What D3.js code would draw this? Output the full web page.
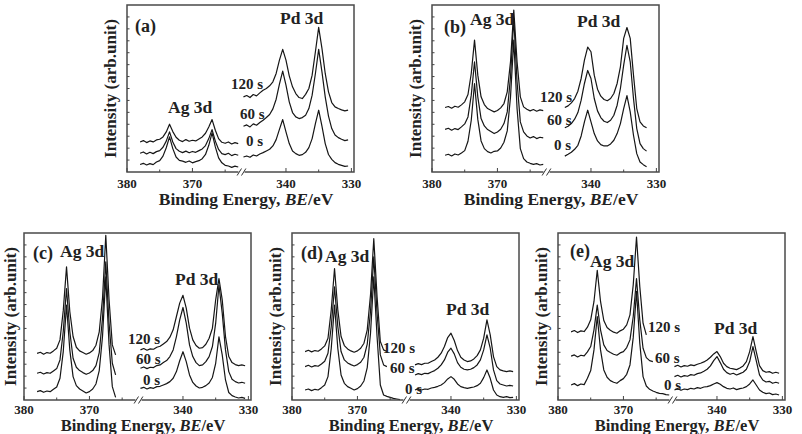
<!DOCTYPE html>
<html>
<head>
<meta charset="utf-8">
<script src="https://cdn.jsdelivr.net/npm/d3@7/dist/d3.min.js"></script>
<style>
  body { margin: 0; background: #fff; }
  text { font-family: "Liberation Serif", "Times New Roman", serif; font-weight: bold; fill: #222; }
</style>
</head>
<body>
<div id="container"></div>
<script>
/* DATA */
const agEnergy = [378,377.5,377,376.5,376,375.5,375,374.5,374,373.5,373,372.5,372,371.5,371,370.5,370,369.5,369,368.5,368,367.5,367,366.5,366,365.5,365,364.5,364,363.5,363];
const pdEnergy = [346.5,346,345.5,345,344.5,344,343.5,343,342.5,342,341.5,341,340.5,340,339.5,339,338.5,338,337.5,337,336.5,336,335.5,335,334.5,334,333.5,333,332.5,332,331.5,331,330.5];
const times = ["0 s", "60 s", "120 s"];
const xTicks = [380, 370, 340, 330];
const xMinorTicks = [375, 365, 335];

// intensities in % of frame height, order: 0 s, 60 s, 120 s
const agA = [
  [4.5,5.2,4.2,5.0,4.4,6.0,6.8,9.5,14.5,21.0,14.0,9.0,7.0,6.5,5.8,6.6,5.5,6.2,6.8,8.0,10.5,16.0,23.4,15.0,8.5,5.5,4.0,3.6,2.8,3.5,3.0],
  [11.2,12.0,10.8,11.8,11.0,12.2,12.8,14.8,18.5,24.0,18.0,14.0,12.4,11.6,12.5,11.5,12.3,11.8,12.8,13.8,15.8,20.0,25.4,18.5,13.5,11.0,10.4,11.2,9.8,10.6,10.0],
  [18.0,18.8,17.6,18.6,18.0,19.2,19.6,21.0,24.0,28.6,24.2,20.8,19.0,18.2,19.4,18.4,19.0,18.6,19.8,21.0,23.2,27.0,31.4,25.0,20.0,17.8,17.2,18.0,16.8,17.6,17.0]
];
const pdA = [
  [9.0,9.6,8.8,10.2,9.6,10.8,11.6,12.6,13.6,15.6,19.4,25.5,31.4,24.0,17.0,12.6,11.0,10.0,10.4,11.8,14.6,20.0,29.0,37.0,27.5,17.0,10.5,7.6,5.6,4.6,4.0,3.4,3.6],
  [27.4,28.2,27.0,28.8,28.0,29.6,31.0,32.6,34.4,37.8,43.6,52.6,60.4,52.0,42.0,35.6,33.0,32.0,32.6,34.0,38.0,46.0,59.0,73.4,60.0,45.0,33.5,26.0,22.2,20.6,19.6,18.8,19.2],
  [45.0,45.8,44.6,46.4,45.6,47.4,49.0,50.0,51.6,54.0,59.0,67.0,73.4,67.0,57.6,51.0,47.0,44.6,44.0,46.5,50.0,58.0,72.0,86.6,74.0,59.0,48.0,41.6,39.0,38.0,37.2,36.6,37.0]
];
const agB = [
  [10.0,10.6,9.6,10.8,10.2,11.4,12.8,18.4,31.0,53.0,31.5,18.6,14.0,12.2,11.4,12.4,12.6,14.4,17.8,24.6,45.0,79.0,38.0,14.0,8.0,6.0,5.2,4.6,5.0,4.2,4.6],
  [25.5,26.2,25.0,26.0,25.4,27.0,28.8,33.0,46.0,66.0,45.0,32.0,27.6,25.4,24.2,23.0,24.0,25.6,29.0,36.0,57.0,92.0,54.0,30.0,24.0,21.6,20.4,21.2,20.0,20.8,20.4],
  [38.6,39.2,38.2,39.4,38.8,40.2,42.0,46.4,59.0,79.0,58.0,45.0,40.4,38.0,37.0,36.0,36.8,38.4,41.0,48.0,66.0,97.0,66.0,45.0,39.0,37.6,36.6,37.4,36.4,37.2,36.8]
];
const pdB = [
  [null,null,null,null,null,9.5,10.6,11.8,13.6,16.0,21.6,30.0,37.0,30.0,23.0,18.6,16.4,15.6,15.6,16.8,19.0,23.0,29.0,38.0,45.7,36.0,22.0,11.0,6.0,4.4,3.2],
  [null,null,null,null,null,26.5,27.4,29.0,31.6,35.6,43.0,53.0,60.8,56.0,44.0,36.6,32.6,30.4,29.6,31.0,34.0,40.0,50.0,64.0,75.9,66.0,44.0,26.0,17.0,14.0,12.5],
  [null,null,null,null,null,38.6,39.6,41.4,44.0,48.4,56.0,67.0,74.8,72.0,58.0,49.6,45.4,43.4,42.7,44.0,47.0,53.0,63.0,80.0,86.5,80.0,58.0,38.0,30.0,27.6,26.5]
];
const agC = [
  [5.0,5.6,4.6,5.4,5.0,6.4,7.8,13.0,29.0,56.8,30.0,14.0,8.6,6.6,5.4,4.2,5.0,6.6,9.6,17.6,38.0,73.7,33.0,8.0,1.6],
  [16.0,16.6,15.6,16.4,16.0,17.4,18.8,24.0,41.0,66.7,41.0,25.0,19.6,17.6,16.4,15.4,16.2,17.6,20.6,28.4,49.0,82.7,46.0,22.0,15.0],
  [27.9,28.6,27.4,28.4,28.0,29.4,31.0,36.0,53.5,79.7,53.0,38.0,31.6,29.4,28.4,27.4,28.2,29.6,32.8,40.8,61.0,98.6,60.0,33.0,27.0]
];
const pdC = [
  [7.0,7.6,6.6,7.4,7.0,8.0,8.2,9.0,9.8,11.0,13.0,17.0,23.5,28.9,23.0,15.0,10.5,8.4,7.2,7.6,8.6,10.2,13.5,22.0,37.8,27.0,12.0,4.5,2.6,1.8,1.2,1.6,1.0],
  [19.0,19.8,18.8,19.6,19.4,20.6,21.0,22.4,23.6,26.0,30.0,38.0,48.0,55.4,46.0,33.0,26.0,22.4,20.6,21.0,23.0,26.0,32.0,46.0,68.7,52.0,30.0,17.0,12.4,11.0,10.2,10.6,10.0],
  [30.0,30.8,29.8,30.6,30.4,31.6,32.2,33.6,35.0,37.6,42.0,50.0,58.0,62.7,55.0,43.0,36.0,32.6,31.0,31.4,33.4,37.0,43.0,60.0,72.7,60.0,38.0,26.0,22.4,21.2,20.6,21.0,20.5]
];
const agD = [
  [6.0,6.6,5.6,6.4,6.0,7.4,9.0,14.0,31.0,56.8,31.0,15.0,10.0,8.0,7.0,6.0,6.8,8.4,11.4,19.4,40.0,73.7,38.0,9.0,3.0,2.2,1.6,1.0,0.6,0.2],
  [20.0,20.8,19.8,20.6,20.2,21.6,23.2,28.0,44.0,67.7,44.0,29.0,24.0,22.2,21.2,20.4,21.2,22.6,25.6,33.4,53.0,85.7,52.0,27.0,21.0,20.0],
  [29.0,29.8,28.8,29.6,29.2,30.6,32.4,37.0,54.0,78.7,54.0,38.0,32.6,30.6,29.4,28.6,29.4,31.0,34.0,42.0,63.0,96.6,62.0,35.0,30.0,29.0]
];
const pdD = [
  [null,null,6.0,6.8,6.0,6.6,6.4,7.2,7.6,8.2,9.0,10.4,12.6,14.0,12.4,9.6,8.0,7.4,7.0,7.4,7.8,8.6,10.0,13.4,18.0,13.0,6.0,3.0,2.0,1.6,2.0,1.4,1.6],
  [null,null,15.0,15.8,15.2,16.0,15.8,16.8,17.6,19.0,21.0,24.0,28.6,31.0,27.6,22.4,19.6,18.4,18.0,18.4,19.4,21.0,24.0,30.0,39.0,31.0,18.0,11.6,9.6,9.0,8.4,8.8,8.4],
  [null,null,21.0,21.8,21.2,22.0,22.0,23.0,24.0,25.6,28.0,32.0,37.4,40.0,35.6,29.6,25.6,24.0,23.0,23.4,24.6,26.6,30.0,37.0,48.0,39.0,26.0,20.0,18.0,17.4,17.0,17.4,17.0]
];
const agE = [
  [9.0,9.8,8.6,9.6,9.2,13.0,17.6,30.0,50.0,30.0,18.0,13.6,11.6,10.6,10.0,11.6,12.8,15.4,21.0,37.5,65.0,34.0,14.0,8.4,6.4,5.4,4.6,4.0,3.8,3.2,3.0],
  [26.3,27.0,25.8,26.8,26.4,28.8,32.0,42.0,56.8,42.0,33.0,29.6,28.4,27.4,26.8,28.2,29.0,31.4,36.0,50.0,72.7,48.0,31.0,25.4,23.6,23.0],
  [40.8,41.6,40.4,41.4,41.0,43.6,48.0,59.0,77.7,59.0,47.6,43.4,41.8,40.6,40.0,41.4,42.4,45.0,51.0,69.0,97.6,68.0,46.0,39.0]
];
const pdE = [
  [6.0,6.8,5.8,6.6,6.2,7.0,6.6,7.4,7.0,7.8,8.0,8.6,9.6,10.4,9.4,8.0,7.0,6.6,7.2,6.2,6.8,7.2,8.0,9.6,12.0,9.0,6.0,4.6,3.8,4.2,3.2,3.6,3.0],
  [14.0,14.8,13.8,14.6,14.2,15.2,14.8,15.8,16.2,17.2,18.4,20.4,23.6,26.0,22.4,18.4,16.4,15.4,16.0,15.0,15.8,16.6,18.4,23.0,32.0,23.6,15.0,12.0,10.8,11.2,10.0,10.6,10.0],
  [20.0,20.8,19.8,20.6,20.2,21.0,20.6,21.4,22.0,22.8,24.0,25.6,27.6,29.0,26.0,22.0,20.0,19.0,18.6,18.2,19.2,20.4,23.0,29.0,38.0,29.0,20.6,17.6,16.6,17.0,16.0,16.6,16.0]
];

/* LAYOUT */
const W = 802, H = 434, pw = 227, ph = 167;
// top row and bottom row use slightly different title spacing (bottom row sits on the image edge)
const rowTop = { tickY: 15.5, xlabY: 33, xlabSize: 17.5 };
const rowBottom = { tickY: 13.5, xlabY: 30.8, xlabSize: 16.5 };
const panels = [
  { tag: "(a)", x: 127, y: 5,   row: rowTop,    ylab: -11, ag: agA, pd: pdA, pos: { tag: [8, 27],  ag: [41, 108], pd: [153, 19],  t: [[119, 141], [113, 114], [104, 84]] } },
  { tag: "(b)", x: 432, y: 5,   row: rowTop,    ylab: -11, ag: agB, pd: pdB, pos: { tag: [12, 28], ag: [38, 20],  pd: [145, 22],  t: [[122, 145], [115, 120], [108, 97]] } },
  { tag: "(c)", x: 24,  y: 233, row: rowBottom, ylab: -8,  ag: agC, pd: pdC, pos: { tag: [9, 26],  ag: [36, 24],  pd: [151, 52],  t: [[119, 152], [112, 131], [104, 111]] } },
  { tag: "(d)", x: 292, y: 233, row: rowBottom, ylab: -11, ag: agD, pd: pdD, pos: { tag: [9, 26],  ag: [33, 29],  pd: [154, 82],  t: [[113, 161], [98, 140], [91, 120]] } },
  { tag: "(e)", x: 558, y: 233, row: rowBottom, ylab: -11, ag: agE, pd: pdE, pos: { tag: [12, 24], ag: [32, 34],  pd: [156, 101], t: [[106, 157], [97, 130], [90, 99]] } }
];

/* SCALES (broken axis) */
const brk = 114.5;
const xLeft = d3.scaleLinear().domain([380, 362.5]).range([0, brk]);
const xRight = d3.scaleLinear().domain([346.8, 329.6]).range([brk, pw]);
const xE = e => e > 355 ? xLeft(e) : xRight(e);
const yScale = d3.scaleLinear().domain([0, 100]).range([ph, 0]);

const svg = d3.select("#container").append("svg")
  .attr("width", W).attr("height", H)
  .style("background", "#fff");

const line = d3.line()
  .defined(d => d[1] != null)
  .x(d => xE(d[0]))
  .y(d => yScale(d[1]));

panels.forEach(p => {
  const g = svg.append("g").attr("transform", `translate(${p.x},${p.y})`);

  // spectra
  [[agEnergy, p.ag], [pdEnergy, p.pd]].forEach(([en, set]) => {
    set.forEach(vals => {
      const pts = vals.map((v, i) => [en[i], v]);
      g.append("path")
        .attr("d", line(pts))
        .attr("fill", "none")
        .attr("stroke", "#161616")
        .attr("stroke-width", 1.2)
        .attr("stroke-linejoin", "round");
    });
  });

  // frame
  g.append("rect")
    .attr("width", pw).attr("height", ph)
    .attr("fill", "none").attr("stroke", "#4a4a4a").attr("stroke-width", 1.5);

  // bottom ticks (inward)
  const tickG = g.append("g").attr("transform", `translate(0,${ph})`);
  tickG.selectAll(".major").data(xTicks).join("line")
    .attr("x1", d => xE(d)).attr("x2", d => xE(d))
    .attr("y1", 0).attr("y2", -4)
    .attr("stroke", "#444").attr("stroke-width", 1);
  tickG.selectAll(".minor").data(xMinorTicks).join("line")
    .attr("x1", d => xE(d)).attr("x2", d => xE(d))
    .attr("y1", 0).attr("y2", -2.5)
    .attr("stroke", "#444").attr("stroke-width", 1);
  tickG.selectAll("text").data(xTicks).join("text")
    .attr("x", d => xE(d)).attr("y", p.row.tickY)
    .attr("text-anchor", "middle")
    .attr("font-size", "13px")
    .text(d => d);

  // left ticks (inward, unlabeled)
  g.selectAll(".ytick").data(d3.range(1, 14).map(k => k * 100 / 14)).join("line")
    .attr("x1", 0).attr("x2", 2.5)
    .attr("y1", d => yScale(d)).attr("y2", d => yScale(d))
    .attr("stroke", "#444").attr("stroke-width", 1);

  // axis break mark
  g.append("rect").attr("x", brk - 3).attr("y", ph - 2).attr("width", 6).attr("height", 4).attr("fill", "#fff");
  [-2.2, 2.2].forEach(dx => {
    g.append("line")
      .attr("x1", brk + dx - 2.2).attr("y1", ph + 3.5)
      .attr("x2", brk + dx + 2.2).attr("y2", ph - 3.5)
      .attr("stroke", "#333").attr("stroke-width", 1);
  });

  // axis titles
  const xl = g.append("text")
    .attr("x", 119).attr("y", ph + p.row.xlabY)
    .attr("text-anchor", "middle")
    .attr("font-size", p.row.xlabSize + "px");
  xl.append("tspan").text("Binding Energy, ");
  xl.append("tspan").attr("font-style", "italic").text("BE");
  xl.append("tspan").text("/eV");

  g.append("text")
    .attr("transform", `translate(${p.ylab},${ph / 2}) rotate(-90)`)
    .attr("text-anchor", "middle")
    .attr("font-size", "17px")
    .text("Intensity (arb.unit)");

  // annotations
  g.append("text").attr("x", p.pos.tag[0]).attr("y", p.pos.tag[1])
    .attr("font-size", "18px").text(p.tag);
  g.append("text").attr("x", p.pos.ag[0]).attr("y", p.pos.ag[1])
    .attr("font-size", "17.5px").text("Ag 3d");
  g.append("text").attr("x", p.pos.pd[0]).attr("y", p.pos.pd[1])
    .attr("font-size", "17.5px").text("Pd 3d");
  times.forEach((t, i) => {
    g.append("text").attr("x", p.pos.t[i][0]).attr("y", p.pos.t[i][1])
      .attr("font-size", "15px").text(t);
  });
});
</script>
</body>
</html>
